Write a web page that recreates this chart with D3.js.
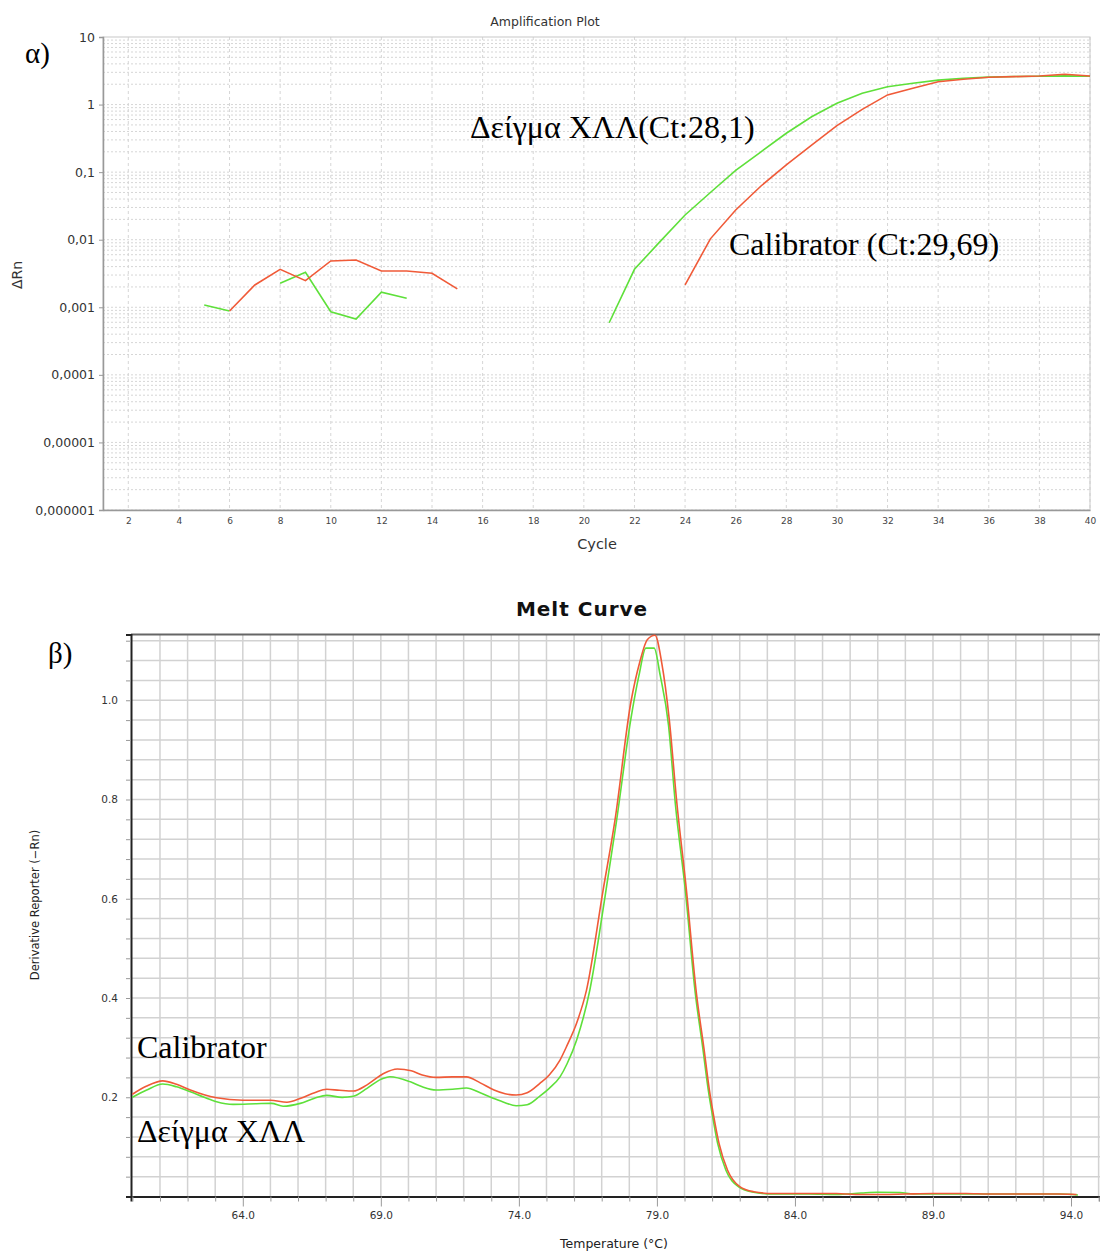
<!DOCTYPE html>
<html>
<head>
<meta charset="utf-8">
<script src="https://cdn.jsdelivr.net/npm/d3@7"></script>
<style>
  body { margin: 0; background: #fff; }
  svg { display: block; }
</style>
</head>
<body>
<div id="chart"></div>
<script>
// Amplification plot (log ΔRn vs cycle) + melt curve (derivative vs temperature)

// ---- amplification data: ΔRn per cycle 1..40, null = not drawn
const cycles = d3.range(1, 41);
const ampSample = [
  null, null, null, null, 1.08e-3, 8.8e-4, null, 2.27e-3, 3.3e-3, 8.6e-4,
  6.7e-4, 1.67e-3, 1.36e-3, null, null, null, null, null, null, null,
  5.9e-4, 3.65e-3, 9.3e-3, 0.0232, 0.05, 0.106, 0.2, 0.376, 0.66, 1.045,
  1.47, 1.84, 2.07, 2.3, 2.45, 2.55, 2.6, 2.62, 2.66, 2.62
];
const ampCalibrator = [
  null, null, null, null, null, 8.8e-4, 2.14e-3, 3.65e-3, 2.48e-3, 4.85e-3,
  5.0e-3, 3.45e-3, 3.45e-3, 3.19e-3, 1.87e-3, null, null, null, null, null,
  null, null, null, 2.14e-3, 0.0103, 0.0275, 0.0624, 0.128, 0.252, 0.487,
  0.85, 1.39, 1.74, 2.18, 2.37, 2.54, 2.59, 2.65, 2.81, 2.65
];
const ampYTicks = [10, 1, 0.1, 0.01, 0.001, 0.0001, 0.00001, 0.000001];
const ampYLabels = ["10", "1", "0,1", "0,01", "0,001", "0,0001", "0,00001", "0,000001"];
const ampXTicks = d3.range(2, 41, 2);

// ---- melt curve data: [temperature °C, derivative]
const meltCalibrator = [
  [60.0, 0.206], [60.5, 0.222], [61.1, 0.233], [61.6, 0.226], [62.1, 0.2145], [62.6, 0.205],
  [63.05, 0.199], [64.0, 0.194], [65.0, 0.194], [65.6, 0.19], [66.1, 0.198], [66.6, 0.209],
  [67.04, 0.216], [67.5, 0.214], [68.0, 0.2125], [68.5, 0.225], [69.1, 0.248], [69.6, 0.257],
  [70.1, 0.2534], [70.5, 0.245], [71.0, 0.240], [71.6, 0.241], [72.1, 0.241], [72.6, 0.229],
  [73.1, 0.2145], [73.5, 0.207], [73.9, 0.2044], [74.3, 0.209], [74.76, 0.228], [75.1, 0.245],
  [75.49, 0.275], [75.75, 0.305], [76.09, 0.349], [76.45, 0.416], [77.05, 0.617], [77.48, 0.758],
  [78.06, 0.997], [78.38, 1.077], [78.65, 1.122], [78.93, 1.131], [79.17, 1.077], [79.45, 0.96],
  [79.71, 0.80], [80.07, 0.617], [80.43, 0.41], [80.7, 0.30], [80.9, 0.215], [81.06, 0.161],
  [81.25, 0.107], [81.56, 0.053], [82.0, 0.020], [82.5, 0.0097], [83.2, 0.006], [84.5, 0.006],
  [85.5, 0.006], [86.2, 0.004], [87.2, 0.004], [88.0, 0.005], [89.0, 0.006], [90.2, 0.006],
  [91.0, 0.005], [92.5, 0.005], [93.5, 0.005], [94.2, 0.004]
];
const meltSample = [
  [60.0, 0.2], [60.5, 0.214], [61.1, 0.2266], [61.6, 0.221], [62.1, 0.211], [62.6, 0.2],
  [63.05, 0.191], [63.65, 0.1857], [64.5, 0.187], [65.04, 0.1877], [65.46, 0.182], [66.08, 0.1877],
  [66.6, 0.198], [67.04, 0.2038], [67.6, 0.1998], [68.0, 0.202], [68.5, 0.218], [69.0, 0.236],
  [69.33, 0.2413], [70.07, 0.231], [70.5, 0.221], [71.0, 0.2145], [71.6, 0.216], [72.1, 0.2185],
  [72.6, 0.209], [73.07, 0.198], [73.5, 0.189], [73.9, 0.183], [74.3, 0.185], [74.76, 0.2024],
  [75.1, 0.218], [75.49, 0.241], [75.75, 0.268], [76.09, 0.315], [76.57, 0.416], [77.12, 0.604],
  [77.54, 0.758], [78.05, 0.96], [78.35, 1.05], [78.6, 1.105], [78.9, 1.105], [79.12, 1.05],
  [79.42, 0.95], [79.67, 0.79], [80.03, 0.617], [80.39, 0.41], [80.66, 0.30], [80.86, 0.215],
  [81.02, 0.161], [81.2, 0.107], [81.5, 0.053], [81.95, 0.020], [82.45, 0.009], [83.2, 0.005],
  [84.5, 0.005], [85.5, 0.004], [86.4, 0.007], [87.0, 0.0085], [87.8, 0.008], [88.3, 0.005],
  [89.5, 0.005], [91.0, 0.005], [92.5, 0.005], [93.6, 0.005], [94.25, 0.003]
];
const meltYTicks = d3.range(1, 29).map(i => +(i * 0.04).toFixed(2));
const meltXTicks = d3.range(60, 96);
const meltXLabelled = [64, 69, 74, 79, 84, 89, 94];

const RED = "#f05a38", GREEN = "#5ee03a";
const W = 1100, H = 1251;
const sans = "'DejaVu Sans', Verdana, sans-serif";
const serif = "'Liberation Serif', 'Times New Roman', serif";

const svg = d3.select("#chart").append("svg")
  .attr("width", W).attr("height", H)
  .attr("font-family", sans);

// ================= α) Amplification plot =================
const a = { left: 103, right: 1090, top: 37, bottom: 510 };
const ax = d3.scaleLinear().domain([1, 40]).range([a.left, a.right]);
const ay = d3.scaleLog().domain([1e-6, 10]).range([a.bottom, a.top]);

const ga = svg.append("g");

// minor log grid
const minorVals = [];
for (let e = -6; e < 1; e++) for (let k = 1; k <= 9; k++) minorVals.push(k * Math.pow(10, e));
ga.append("g").selectAll("line").data(minorVals).join("line")
  .attr("x1", a.left).attr("x2", a.right)
  .attr("y1", d => ay(d)).attr("y2", d => ay(d))
  .attr("stroke", "#d6d6d6").attr("stroke-width", 1).attr("stroke-dasharray", "2,2");
ga.append("g").selectAll("line").data(ampXTicks).join("line")
  .attr("x1", d => ax(d)).attr("x2", d => ax(d))
  .attr("y1", a.top).attr("y2", a.bottom)
  .attr("stroke", "#d6d6d6").attr("stroke-width", 1).attr("stroke-dasharray", "3,3");

// frame
ga.append("rect")
  .attr("x", a.left).attr("y", a.top)
  .attr("width", a.right - a.left).attr("height", a.bottom - a.top)
  .attr("fill", "none").attr("stroke", "#c8c8c8");

// axes
const ampYAxis = ga.append("g").attr("transform", `translate(${a.left},0)`)
  .call(d3.axisLeft(ay).tickValues(ampYTicks).tickSize(4).tickPadding(4)
    .tickFormat((d, i) => ampYLabels[i]));
ampYAxis.select(".domain").attr("stroke", "#999").attr("stroke-width", 1.5);
ampYAxis.selectAll(".tick line").attr("stroke", "#999");
ampYAxis.selectAll("text").attr("font-size", "12.5px").attr("fill", "#333")
  .attr("font-family", sans);

const ampXAxis = ga.append("g").attr("transform", `translate(0,${a.bottom})`)
  .call(d3.axisBottom(ax).tickValues(ampXTicks).tickSize(0).tickPadding(8));
ampXAxis.select(".domain").attr("stroke", "#999").attr("stroke-width", 1.5);
ampXAxis.selectAll("text").attr("font-size", "9px").attr("fill", "#444")
  .attr("font-family", sans);

// series
const ampLine = d3.line()
  .defined(d => d.v != null)
  .x(d => ax(d.c)).y(d => ay(d.v));
[[ampSample, GREEN], [ampCalibrator, RED]].forEach(([vals, col]) => {
  ga.append("path")
    .datum(cycles.map((c, i) => ({ c, v: vals[i] })))
    .attr("d", ampLine)
    .attr("fill", "none").attr("stroke", col).attr("stroke-width", 1.6);
});

// titles / labels
ga.append("text").attr("x", 545).attr("y", 26).attr("text-anchor", "middle")
  .attr("font-size", "12.5px").attr("fill", "#333").text("Amplification Plot");
ga.append("text").attr("x", 597).attr("y", 549).attr("text-anchor", "middle")
  .attr("font-size", "14.5px").attr("fill", "#333").text("Cycle");
ga.append("text").attr("transform", "translate(22,275) rotate(-90)")
  .attr("text-anchor", "middle").attr("font-size", "14px").attr("fill", "#333").text("ΔRn");

ga.append("text").attr("x", 25).attr("y", 63).attr("font-family", serif)
  .attr("font-size", "29px").attr("fill", "#000").text("α)");
ga.append("text").attr("x", 470).attr("y", 138).attr("font-family", serif)
  .attr("font-size", "32px").attr("fill", "#000").text("Δείγμα ΧΛΛ(Ct:28,1)");
ga.append("text").attr("x", 729).attr("y", 255).attr("font-family", serif)
  .attr("font-size", "32px").attr("fill", "#000").text("Calibrator (Ct:29,69)");

// ================= β) Melt curve =================
const m = { left: 131, right: 1100, top: 634.5, bottom: 1196.5 };
const mx = d3.scaleLinear().domain([59.95, 95.05]).range([m.left, m.right]);
const my = d3.scaleLinear().domain([0, 1.1325]).range([m.bottom, m.top]);

const gm = svg.append("g");

gm.append("g").selectAll("line").data(meltXTicks.filter(t => t > 60)).join("line")
  .attr("x1", d => mx(d)).attr("x2", d => mx(d))
  .attr("y1", m.top).attr("y2", m.bottom)
  .attr("stroke", "#d2d2d2").attr("stroke-width", 1.5);
gm.append("g").selectAll("line").data(meltYTicks).join("line")
  .attr("x1", m.left).attr("x2", m.right)
  .attr("y1", d => my(d)).attr("y2", d => my(d))
  .attr("stroke", "#d2d2d2").attr("stroke-width", 1.5);

// top border
gm.append("line").attr("x1", m.left).attr("x2", m.right)
  .attr("y1", m.top).attr("y2", m.top)
  .attr("stroke", "#666").attr("stroke-width", 2);

const meltYAxis = gm.append("g").attr("transform", `translate(${m.left},0)`)
  .call(d3.axisLeft(my).tickValues(meltYTicks).tickSize(5).tickPadding(8)
    .tickFormat(d => Math.abs(d * 5 - Math.round(d * 5)) < 1e-6 ? d3.format(".1f")(d) : ""));
meltYAxis.select(".domain").attr("stroke", "#222").attr("stroke-width", 2);
meltYAxis.selectAll(".tick line").attr("stroke", "#999");
meltYAxis.selectAll("text").attr("font-size", "10.5px").attr("fill", "#333")
  .attr("font-family", sans);

const meltXAxis = gm.append("g").attr("transform", `translate(0,${m.bottom})`)
  .call(d3.axisBottom(mx).tickValues(meltXTicks).tickSize(5).tickPadding(10)
    .tickFormat(d => meltXLabelled.includes(d) ? d3.format(".1f")(d) : ""));
meltXAxis.select(".domain").attr("stroke", "#222").attr("stroke-width", 2);
meltXAxis.selectAll(".tick line").attr("stroke", "#999")
  .attr("y2", d => meltXLabelled.includes(d) ? 10 : 5);
meltXAxis.selectAll("text").attr("font-size", "10.5px").attr("fill", "#333")
  .attr("font-family", sans);

const meltLine = d3.line().x(d => mx(d[0])).y(d => my(d[1])).curve(d3.curveMonotoneX);
[[meltSample, GREEN], [meltCalibrator, RED]].forEach(([vals, col]) => {
  gm.append("path").datum(vals).attr("d", meltLine)
    .attr("fill", "none").attr("stroke", col).attr("stroke-width", 1.6);
});

gm.append("text").attr("x", 582).attr("y", 616).attr("text-anchor", "middle")
  .attr("font-weight", "bold").attr("letter-spacing", "1px")
  .attr("font-size", "20px").attr("fill", "#111").text("Melt Curve");
gm.append("text").attr("x", 614).attr("y", 1248).attr("text-anchor", "middle")
  .attr("font-size", "12.5px").attr("fill", "#222").text("Temperature (°C)");
gm.append("text").attr("transform", "translate(39,905) rotate(-90)")
  .attr("text-anchor", "middle").attr("font-size", "11.5px").attr("fill", "#222")
  .text("Derivative Reporter (−Rn)");

gm.append("text").attr("x", 48).attr("y", 663).attr("font-family", serif)
  .attr("font-size", "29px").attr("fill", "#000").text("β)");
gm.append("text").attr("x", 137).attr("y", 1058).attr("font-family", serif)
  .attr("font-size", "32px").attr("fill", "#000").text("Calibrator");
gm.append("text").attr("x", 137).attr("y", 1142).attr("font-family", serif)
  .attr("font-size", "32px").attr("fill", "#000").text("Δείγμα ΧΛΛ");
</script>
</body>
</html>
